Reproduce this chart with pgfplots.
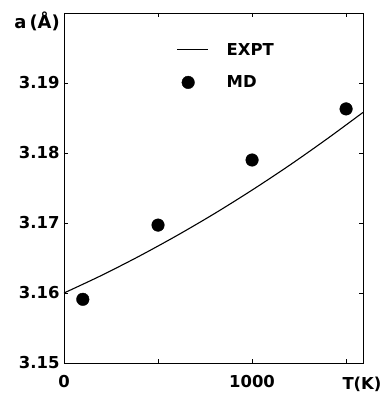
\documentclass[border=0pt]{standalone}
\usepackage{fontspec}
\setmainfont{DejaVu Sans}
\usepackage{pgfplots}
\pgfplotsset{compat=1.18}
\newcommand{\lf}{\fontsize{16.5}{16.5}\selectfont\bfseries}
\begin{document}
\begin{tikzpicture}
\begin{axis}[
  scale only axis, width=299bp, height=350bp,
  xmin=0, xmax=1590, ymin=3.15, ymax=3.20,
  xtick={0,500,1000,1500}, xticklabels={0,,1000,},
  ytick={3.15,3.16,3.17,3.18,3.19}, yticklabels={3.15,3.16,3.17,3.18,3.19},
  tick align=inside, major tick length=4bp,
  tick style={line width=0.7bp, black},
  axis line style={line width=0.9bp},
  ticklabel style={font=\lf},
  yticklabel style={xshift=-1bp},
  xticklabel style={yshift=-9bp},
  clip=false,
  legend style={at={(0.376,0.92)}, anchor=north west, draw=none, fill=none,
    font=\lf, row sep=15bp, inner sep=0pt},
  legend cell align=left,
]
\addplot[black, line width=1.1bp, smooth,
  legend image code/.code={\draw[line width=1.1bp] (0bp,0bp) -- (31bp,0bp);}] coordinates {
 (0,3.1600) (200,3.16252) (400,3.16526) (600,3.16820) (800,3.17134)
 (1000,3.1747) (1200,3.17826) (1400,3.18204) (1590,3.1858)};
\addlegendentry{\hspace{16bp}EXPT}
\addplot[only marks, mark=*, mark size=6.3bp, black,
  legend image code/.code={\fill (11bp,0bp) circle (6.3bp);}] coordinates {
 (100,3.1591) (500,3.1697) (1000,3.1790) (1500,3.1863)};
\addlegendentry{\hspace{16bp}MD}
\node[font=\fontsize{18}{18}\selectfont\bfseries, anchor=east, inner sep=0pt] at ([xshift=-4bp,yshift=-8bp]rel axis cs:0,1) {a\,(Å)};
\node[font=\lf] at ([xshift=-1bp,yshift=-21bp]rel axis cs:1,0) {T(K)};
\coordinate (ll) at (rel axis cs:0,0);
\coordinate (ur) at (rel axis cs:1,1);
\end{axis}
\pgfresetboundingbox
\path ([xshift=-64bp,yshift=-35bp]ll) rectangle ([xshift=22bp,yshift=13bp]ur);
\end{tikzpicture}
\end{document}
